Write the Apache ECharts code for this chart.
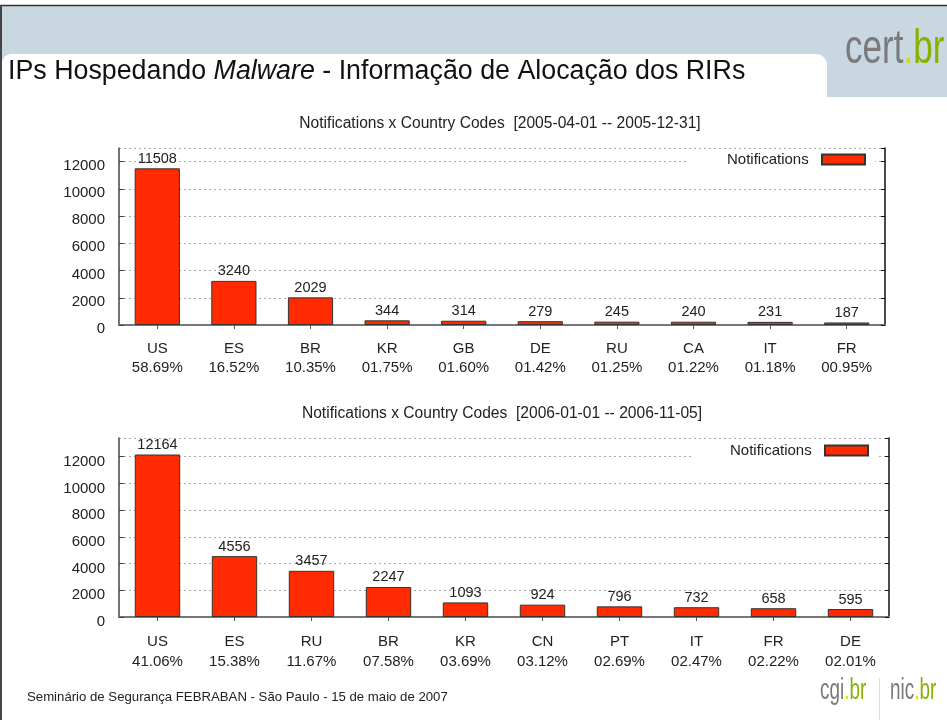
<!DOCTYPE html>
<html><head><meta charset="utf-8">
<script src="https://cdn.jsdelivr.net/npm/echarts@6/dist/echarts.min.js"></script>
<style>html,body{margin:0;padding:0;background:#fff}#c{width:947px;height:720px}</style>
</head><body><div id="c"></div><script>
// ---- data ----
const countries2005 = ['US','ES','BR','KR','GB','DE','RU','CA','IT','FR'];
const values2005 = [11508,3240,2029,344,314,279,245,240,231,187];
const percents2005 = ['58.69%','16.52%','10.35%','01.75%','01.60%','01.42%','01.25%','01.22%','01.18%','00.95%'];
const title2005 = 'Notifications x Country Codes  [2005-04-01 -- 2005-12-31]';

const countries2006 = ['US','ES','RU','BR','KR','CN','PT','IT','FR','DE'];
const values2006 = [12164,4556,3457,2247,1093,924,796,732,658,595];
const percents2006 = ['41.06%','15.38%','11.67%','07.58%','03.69%','03.12%','02.69%','02.47%','02.22%','02.01%'];
const title2006 = 'Notifications x Country Codes  [2006-01-01 -- 2006-11-05]';

const seriesName = 'Notifications';
const yMax2005 = 13000, yMax2006 = 13400, yInterval = 2000;

const slideTitleA = 'IPs Hospedando ';
const slideTitleB = 'Malware';
const slideTitleC = ' - Informação de Alocação dos RIRs';
const footerText = 'Seminário de Segurança FEBRABAN - São Paulo - 15 de maio de 2007';

// ---- style ----
const FONT = '"Liberation Sans", Arial, Helvetica, sans-serif';
const TXT = '#222';
const BAR = '#ff2a00';

const chart = echarts.init(document.getElementById('c'), null, {renderer:'canvas'});

function xAxes(gi, cats, pcts, margin, lh) {
  return [
    {gridIndex:gi, type:'category', data:cats, position:'bottom',
     axisLine:{show:true, lineStyle:{color:'#444', width:1.5}},
     axisTick:{show:false},
     axisLabel:{interval:0, margin:margin, fontSize:15, lineHeight:lh, color:TXT, fontFamily:FONT,
       formatter:(v,i)=> v + '\n' + pcts[i]}},
    {gridIndex:gi, type:'category', data:cats, position:'top',
     axisLine:{show:true, lineStyle:{color:'#777', width:2}},
     axisTick:{show:true, inside:true, alignWithLabel:true, length:4, lineStyle:{color:'#555'}},
     axisLabel:{show:false}}
  ];
}
function yAxes(gi, max, lh) {
  return [
    {gridIndex:gi, type:'value', min:0, max:max, interval:yInterval, position:'left',
     axisLine:{show:true, lineStyle:{color:'#444', width:1.5}},
     axisTick:{show:true, inside:true, length:5, lineStyle:{color:'#444'}},
     splitLine:{show:true, lineStyle:{type:[2,3], color:'#aaa', width:1}},
     axisLabel:{showMaxLabel:false, margin:14, fontSize:15, color:TXT, fontFamily:FONT,
       verticalAlign:'top', lineHeight:lh, formatter: v => String(v)}},
    {gridIndex:gi, type:'value', min:0, max:max, interval:yInterval, position:'right',
     axisLine:{show:true, lineStyle:{color:'#111', width:1.5}},
     axisTick:{show:true, inside:true, length:4, lineStyle:{color:'#111'}},
     splitLine:{show:false}, axisLabel:{show:false}}
  ];
}
function barSeries(xi, yi, data) {
  return {type:'bar', name:seriesName, xAxisIndex:xi, yAxisIndex:yi, data:data, barWidth:'59%',
    itemStyle:{color:BAR, borderColor:'#333', borderWidth:1},
    label:{show:true, position:'top', distance:2, fontSize:14.5, color:TXT, fontFamily:FONT},
    emphasis:{disabled:true}, animation:false};
}
function legend(right, top) {
  return {data:[seriesName], right:right, top:top, orient:'horizontal', align:'right', icon:'rect',
    itemWidth:43, itemHeight:10, backgroundColor:'#fff', padding:[2,9,2,38], selectedMode:false,
    formatter: n => n + '  ',
    textStyle:{fontSize:15, color:TXT, fontFamily:FONT}};
}
function logo(x, y, name, size, sx) {
  return {type:'text', x:x, y:y, scaleX:sx, style:{
    text:'{g|' + name + '}{y|.}{b|br}', verticalAlign:'middle',
    rich:{g:{fontSize:size, fontFamily:FONT, fill:'#7a7a7a'},
          y:{fontSize:size, fontFamily:FONT, fill:'#d4e000'},
          b:{fontSize:size, fontFamily:FONT, fill:'#86b300'}}}};
}

const option = {
  backgroundColor:'#fff',
  animation:false,
  textStyle:{fontFamily:FONT},
  title:[
    {text:title2005, left:500, top:115.5, textAlign:'center', padding:0,
     textStyle:{fontSize:15.6, fontWeight:'normal', color:TXT, fontFamily:FONT}},
    {text:title2006, left:502, top:405.5, textAlign:'center', padding:0,
     textStyle:{fontSize:15.6, fontWeight:'normal', color:TXT, fontFamily:FONT}}
  ],
  legend:[legend(72,150), legend(69,441)],
  grid:[
    {left:119, right:62, top:148, bottom:395, outerBoundsMode:'none'},
    {left:119, right:58, top:438, bottom:103, outerBoundsMode:'none'}
  ],
  xAxis:[...xAxes(0, countries2005, percents2005, 14, 19), ...xAxes(1, countries2006, percents2006, 15, 20)],
  yAxis:[...yAxes(0, yMax2005, 8), ...yAxes(1, yMax2006, 10)],
  series:[barSeries(0,0,values2005), barSeries(2,2,values2006)],
  graphic:[
    {type:'rect', shape:{x:0, y:6, width:947, height:91}, style:{fill:'#c9d8e0'}},
    {type:'rect', shape:{x:2, y:54, width:825, height:50, r:[9,11,0,0]}, style:{fill:'#fff'}},
    {type:'line', shape:{x1:0, y1:5.5, x2:947, y2:5.5}, style:{stroke:'#333', lineWidth:1.5}},
    {type:'line', shape:{x1:1, y1:5, x2:1, y2:720}, style:{stroke:'#444', lineWidth:2}},
    {type:'text', x:8, y:72, style:{
      text:'{a|' + slideTitleA + '}{b|' + slideTitleB + '}{a|' + slideTitleC + '}',
      verticalAlign:'middle',
      rich:{a:{fontSize:26.8, fontFamily:FONT, fill:'#111'}, b:{fontSize:26.8, fontFamily:FONT, fontStyle:'italic', fill:'#111'}}}},
    logo(845, 50, 'cert', 48, 0.73),
    {type:'text', x:27, y:697, style:{text:footerText, fontSize:13.2, fontFamily:FONT, fill:'#222', verticalAlign:'middle'}},
    {type:'line', shape:{x1:879.5, y1:678, x2:879.5, y2:720}, style:{stroke:'#ddd', lineWidth:1}},
    logo(820, 690.5, 'cgi', 30, 0.63),
    logo(890, 690.5, 'nic', 30, 0.63)
  ]
};
chart.setOption(option);
</script></body></html>
